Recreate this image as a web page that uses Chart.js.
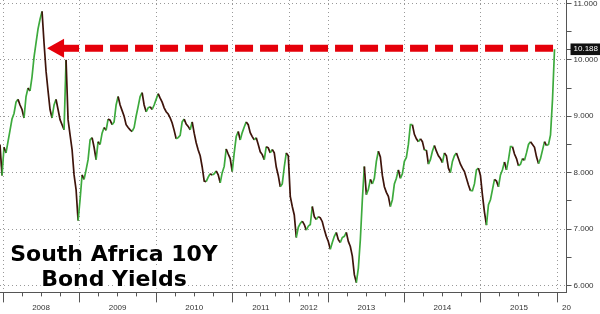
<!DOCTYPE html>
<html>
<head>
<meta charset="utf-8">
<title>South Africa 10Y Bond Yields</title>
<script src="https://cdn.jsdelivr.net/npm/chart.js@4.4.1/dist/chart.umd.min.js"></script>
<style>
  html, body { margin: 0; padding: 0; background: #fff; }
  #wrap { position: relative; width: 600px; height: 314px; }
</style>
</head>
<body>
<div id="wrap"><canvas id="yieldChart"></canvas></div>
<script>
// closes, roughly one every week, Jan 2008 -> Dec 2015
const yields = [
  8.5, 7.95, 8.45, 8.35, 8.55, 8.75, 8.95, 9.05, 9.25, 9.3,
  9.2, 9.12, 8.97, 9.35, 9.5, 9.45, 9.7, 10.05, 10.3, 10.55,
  10.72, 10.86, 10.3, 9.8, 9.45, 9.12, 8.97, 9.2, 9.3, 9.12,
  8.94, 8.85, 8.76, 10.0, 8.94, 8.67, 8.41, 7.96, 7.7, 7.15,
  7.52, 7.96, 7.88, 8.05, 8.23, 8.58, 8.62, 8.45, 8.23, 8.55,
  8.5, 8.7, 8.8, 8.75, 8.95, 8.93, 8.85, 8.9, 9.2, 9.35,
  9.2, 9.1, 9.0, 8.85, 8.8, 8.76, 8.73, 8.8, 9.0, 9.17,
  9.35, 9.42, 9.2, 9.08, 9.15, 9.17, 9.12, 9.2, 9.3, 9.4,
  9.32, 9.25, 9.15, 9.08, 9.04, 8.97, 8.88, 8.75, 8.6, 8.62,
  8.66, 8.9, 8.95, 8.86, 8.82, 8.76, 8.9, 8.7, 8.53, 8.4,
  8.3, 8.1, 7.85, 7.84, 7.92, 7.98, 7.96, 7.98, 8.03, 7.96,
  7.82, 8.0, 8.11, 8.42, 8.33, 8.25, 8.02, 8.35, 8.64, 8.73,
  8.58, 8.71, 8.81, 8.9, 8.85, 8.71, 8.64, 8.58, 8.62, 8.5,
  8.37, 8.32, 8.23, 8.46, 8.44, 8.35, 8.41, 8.35, 8.1, 7.95,
  7.75, 7.8, 8.1, 8.35, 8.3, 7.58, 7.4, 7.25, 6.85, 7.03,
  7.1, 7.14, 7.08, 6.98, 7.05, 7.08, 7.4, 7.22, 7.17, 7.22,
  7.2, 7.13, 6.99, 6.87, 6.78, 6.64, 6.76, 6.87, 6.94, 6.81,
  6.76, 6.85, 6.87, 6.94, 6.78, 6.69, 6.52, 6.19, 6.05, 6.3,
  6.81, 7.52, 8.11, 7.61, 7.7, 7.88, 7.8, 7.9, 8.2, 8.38,
  8.28, 7.95, 7.75, 7.65, 7.58, 7.4, 7.52, 7.8, 7.9, 8.05,
  7.9, 7.98, 8.2, 8.27, 8.5, 8.85, 8.85, 8.68, 8.6, 8.55,
  8.6, 8.55, 8.4, 8.4, 8.15, 8.23, 8.38, 8.48, 8.38, 8.3,
  8.25, 8.18, 8.35, 8.3, 8.08, 8.0, 8.2, 8.3, 8.35, 8.25,
  8.15, 8.08, 8.02, 7.9, 7.78, 7.68, 7.68, 7.8, 8.05, 8.08,
  7.95, 7.6, 7.3, 7.07, 7.43, 7.52, 7.7, 7.88, 7.85, 7.75,
  7.96, 8.05, 8.19, 8.05, 8.23, 8.46, 8.46, 8.33, 8.25, 8.12,
  8.15, 8.25, 8.22, 8.35, 8.5, 8.55, 8.5, 8.45, 8.28, 8.16,
  8.25, 8.4, 8.55, 8.48, 8.5, 8.67, 9.3, 10.188
];

// year labels and the bar index where each year starts (last one = 2016)
const years = ['2008', '2009', '2010', '2011', '2012', '2013', '2014', '2015'];
const yearStarts = [1.5, 39.5, 78, 116, 144.5, 164, 202, 240, 278.5];
const cutLabel = '20';
const xMax = 283;

// value axis
const yTickValues = [6, 6.5, 7, 7.5, 8, 8.5, 9, 9.5, 10, 10.5, 11];
const yMin = 5.876;
const yMax = 11.062;

const titleLines = ['South Africa 10Y', 'Bond Yields'];

const lastYield = yields[yields.length - 1];
const upColor = '#3daa3d';
const downColor = '#3e140b';
const gridColor = '#999';
const axisColor = '#555';
const arrowRed = '#e5000a';

// quarter ticks on the axis line, gridlines only on year starts
const quarterTicks = [];
for (let k = 0; k < yearStarts.length - 1; k++) {
  const step = (yearStarts[k + 1] - yearStarts[k]) / 4;
  for (let q = 0; q < 4; q++) quarterTicks.push(yearStarts[k] + q * step);
}
quarterTicks.push(yearStarts[yearStarts.length - 1]);

// label axis: separators at year starts, text in the middle of each year
const labelTicks = [];
const labelTexts = [];
yearStarts.forEach((s, k) => {
  labelTicks.push(s); labelTexts.push('');
  if (k < years.length) {
    labelTicks.push((s + yearStarts[k + 1]) / 2); labelTexts.push(years[k]);
  }
});
labelTicks.push(xMax); labelTexts.push(cutLabel);

const noPadding = s => { s.paddingTop = 0; s.paddingBottom = 0; s.paddingLeft = 0; s.paddingRight = 0; };

const titlePlugin = {
  id: 'bigTitle',
  afterDatasetsDraw(chart) {
    const ctx = chart.ctx;
    ctx.save();
    ctx.font = 'bold 22px "DejaVu Sans"';
    ctx.textAlign = 'center';
    ctx.lineJoin = 'round';
    ctx.strokeStyle = '#fff';
    ctx.lineWidth = 5;
    ctx.fillStyle = '#000';
    titleLines.forEach((t, i) => {
      ctx.strokeText(t, 114, 261 + i * 25);
      ctx.fillText(t, 114, 261 + i * 25);
    });
    ctx.restore();
  }
};

const arrowPlugin = {
  id: 'arrow',
  afterDatasetsDraw(chart) {
    const { ctx, scales: { x, y } } = chart;
    const yy = y.getPixelForValue(lastYield) - 1;
    const peakIdx = yields.indexOf(Math.max(...yields));
    const tip = x.getPixelForValue(peakIdx) + 5;
    const end = x.getPixelForValue(yields.length - 1) + 1;
    ctx.save();
    ctx.fillStyle = arrowRed;
    ctx.strokeStyle = arrowRed;
    ctx.beginPath();
    ctx.moveTo(tip, yy);
    ctx.lineTo(tip + 17, yy - 9.5);
    ctx.lineTo(tip + 17, yy + 9.5);
    ctx.closePath();
    ctx.fill();
    ctx.fillRect(tip + 16, yy - 3.5, 16, 7);
    ctx.lineWidth = 7;
    ctx.setLineDash([18, 7]);
    ctx.beginPath();
    ctx.moveTo(tip + 38, yy);
    ctx.lineTo(end, yy);
    ctx.stroke();
    ctx.restore();
  }
};

new Chart(document.getElementById('yieldChart').getContext('2d'), {
  type: 'line',
  data: {
    datasets: [{
      data: yields.map((v, i) => ({ x: i, y: v })),
      xAxisID: 'x',
      yAxisID: 'y',
      borderWidth: 1.7,
      borderColor: upColor,
      pointRadius: 0,
      tension: 0,
      segment: {
        borderColor: c => c.p1.parsed.y >= c.p0.parsed.y ? upColor : downColor
      }
    }]
  },
  options: {
    responsive: true,
    maintainAspectRatio: false,
    animation: false,
    layout: { padding: 0 },
    plugins: {
      legend: { display: false },
      tooltip: { enabled: false }
    },
    scales: {
      x: {
        type: 'linear',
        position: 'bottom',
        weight: 1,
        min: 0,
        max: xMax,
        afterBuildTicks: s => { s.ticks = quarterTicks.map(v => ({ value: v })); },
        afterFit: noPadding,
        ticks: { display: false },
        grid: {
          color: c => (c.tick && yearStarts.includes(c.tick.value)) ? gridColor : 'rgba(0,0,0,0)',
          tickColor: axisColor,
          tickLength: 4,
          tickBorderDash: []
        },
        border: { color: axisColor, dash: [1, 3] }
      },
      xl: {
        type: 'linear',
        position: 'bottom',
        weight: 2,
        min: 0,
        max: xMax,
        afterBuildTicks: s => { s.ticks = labelTicks.map(v => ({ value: v })); },
        afterFit: noPadding,
        ticks: {
          autoSkip: false,
          maxRotation: 0,
          padding: 1,
          color: '#333',
          font: { family: '"Liberation Sans"', size: 8 },
          callback: (v, i) => labelTexts[i]
        },
        grid: {
          drawOnChartArea: false,
          tickLength: 6,
          tickColor: c => labelTexts[c.index] === '' ? axisColor : 'rgba(0,0,0,0)'
        },
        border: { display: false }
      },
      y: {
        position: 'right',
        min: yMin,
        max: yMax,
        afterBuildTicks: s => {
          s.ticks = yTickValues.concat([lastYield]).sort((a, b) => a - b).map(v => ({ value: v }));
        },
        afterFit: noPadding,
        ticks: {
          autoSkip: false,
          padding: 2,
          font: { family: '"Liberation Sans"', size: 8 },
          color: c => (c.tick && c.tick.value === lastYield) ? '#fff' : '#333',
          showLabelBackdrop: true,
          backdropColor: c => (c.tick && c.tick.value === lastYield) ? '#111' : 'rgba(0,0,0,0)',
          backdropPadding: { left: 3, right: 3, top: 1, bottom: 1 },
          callback: v => (v === lastYield || Number.isInteger(v)) ? v.toFixed(3) : ''
        },
        grid: {
          color: c => (c.tick && Number.isInteger(c.tick.value)) ? gridColor : 'rgba(0,0,0,0)',
          tickColor: axisColor,
          tickLength: 5,
          tickBorderDash: []
        },
        border: { color: axisColor, dash: [1, 3] }
      }
    }
  },
  plugins: [titlePlugin, arrowPlugin]
});
</script>
</body>
</html>
